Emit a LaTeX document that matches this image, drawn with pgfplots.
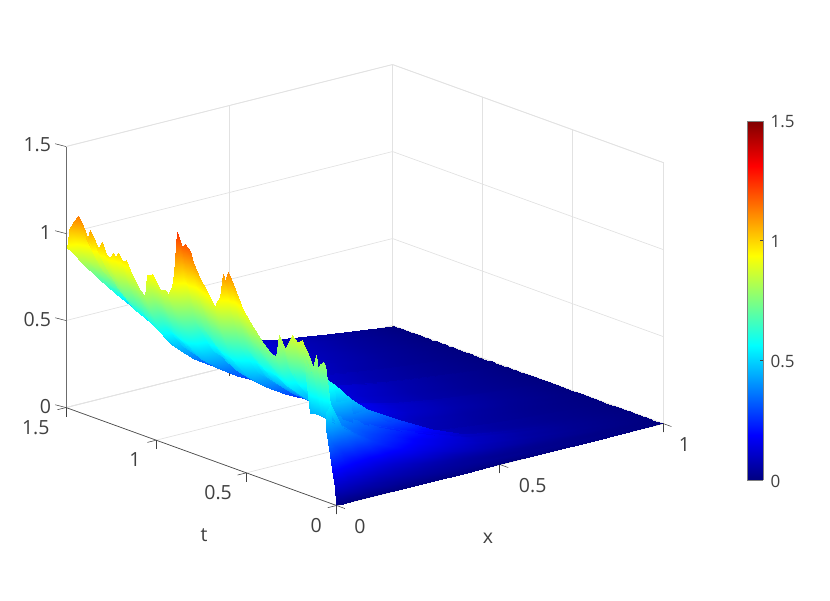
\documentclass[border=0pt]{standalone}
\usepackage{fontspec}
\setmainfont{Open Sans}
\usepackage{pgfplots}
\pgfplotsset{compat=1.18}
\definecolor{txt}{HTML}{404040}
\definecolor{gridc}{HTML}{E2E2E2}
\begin{document}
\begin{tikzpicture}
\path[use as bounding box] (-336.5pt,-95.5pt) rectangle (493.5pt,505.5pt);
\begin{axis}[
  at={(0pt,0pt)}, anchor=origin,
  x={(326.5pt,82pt)}, y={(-180.3pt,65.3pt)}, z={(0pt,174pt)},
  xmin=0, xmax=1, ymin=0, ymax=1.5, zmin=0, zmax=1.5,
  xtick={0,0.5,1}, ytick={0,0.5,1,1.5}, ztick={0,0.5,1,1.5},
  xticklabels={\hspace*{-8pt}0,\hspace*{11pt}0.5,\hspace*{-12pt}1},
  yticklabels={\hspace*{10pt}0,\hspace*{-6pt}0.5,\hspace*{8pt}1,\hspace*{-10pt}1.5},
  xtick pos=lower, ytick pos=lower, ztick pos=left,
  tick align=outside, major tick length=9pt,
  ztick style={draw=none},
  grid=major, grid style={gridc, line width=0.7pt},
  axis line style={gridc, line width=0.7pt},
  tick style={txt, line width=0.5pt},
  tick label style={font=\fontsize{19.5}{22}\selectfont, text=txt, /pgf/number format/assume math mode=true},
  xticklabel style={anchor=center, xshift=19pt, yshift=-18pt},
  yticklabel style={anchor=center, xshift=-16.5pt, yshift=-17.5pt},
  zticklabel style={xshift=-3pt, yshift=-2.5pt},
  label style={font=\fontsize{19.5}{22}\selectfont, text=txt},
  xlabel={x}, ylabel={t},
  xlabel style={at={(axis cs:.1118,-.638,0)}, anchor=center, rotate=0},
  ylabel style={at={(axis cs:-.387,.034,0)}, anchor=center, rotate=0},
  colormap/jet, point meta min=0, point meta max=1.5,
  clip=false,
]
\draw[txt, line width=0.4pt] (axis cs:0,0,0) -- (axis cs:1,0,0);
\addplot3[surf, shader=interp, z buffer=sort, mesh/rows=66, mesh/cols=12] coordinates {
(0,0,0)(.02,0,0)(.05,0,0)(.1,0,0)(.15,0,0)(.2,0,0)(.3,0,0)(.4,0,0)(.5,0,0)(.65,0,0)(.8,0,0)(1,0,0)
(0,.01,.1)(.02,.01,.09)(.05,.01,.07)(.1,.01,.05)(.15,.01,.04)(.2,.01,.035)(.3,.01,.03)(.4,.01,.025)(.5,.01,.02)(.65,.01,.015)(.8,.01,.01)(1,.01,0)
(0,.02,.16)(.02,.02,.13)(.05,.02,.1)(.1,.02,.07)(.15,.02,.055)(.2,.02,.05)(.3,.02,.04)(.4,.02,.035)(.5,.02,.03)(.65,.02,.02)(.8,.02,.012)(1,.02,0)
(0,.03,.24)(.02,.03,.19)(.05,.03,.135)(.1,.03,.1)(.15,.03,.08)(.2,.03,.07)(.3,.03,.05)(.4,.03,.038)(.5,.03,.028)(.65,.03,.018)(.8,.03,.01)(1,.03,0)
(0,.045,.35)(.02,.045,.28)(.05,.045,.2)(.1,.045,.15)(.15,.045,.11)(.2,.045,.09)(.3,.045,.06)(.4,.045,.043)(.5,.045,.03)(.65,.045,.02)(.8,.045,.01)(1,.045,0)
(0,.06,.41)(.02,.06,.33)(.05,.06,.26)(.1,.06,.2)(.15,.06,.15)(.2,.06,.12)(.3,.06,.08)(.4,.06,.055)(.5,.06,.04)(.65,.06,.025)(.8,.06,.013)(1,.06,0)
(0,.066,.78)(.02,.066,.5)(.05,.066,.38)(.1,.066,.28)(.15,.066,.22)(.2,.066,.17)(.3,.066,.115)(.4,.066,.08)(.5,.066,.055)(.65,.066,.032)(.8,.066,.016)(1,.066,0)
(0,.073,.797)(.02,.073,.55)(.05,.073,.42)(.1,.073,.33)(.15,.073,.27)(.2,.073,.22)(.3,.073,.15)(.4,.073,.1)(.5,.073,.07)(.65,.073,.04)(.8,.073,.02)(1,.073,0)
(0,.092,.78)(.02,.092,.5)(.05,.092,.42)(.1,.092,.34)(.15,.092,.28)(.2,.092,.24)(.3,.092,.17)(.4,.092,.12)(.5,.092,.08)(.65,.092,.045)(.8,.092,.022)(1,.092,0)
(0,.104,.74)(.02,.104,.46)(.05,.104,.41)(.1,.104,.34)(.15,.104,.29)(.2,.104,.25)(.3,.104,.18)(.4,.104,.13)(.5,.104,.09)(.65,.104,.05)(.8,.104,.025)(1,.104,0)
(0,.115,.819)(.02,.115,.47)(.05,.115,.42)(.1,.115,.35)(.15,.115,.3)(.2,.115,.26)(.3,.115,.185)(.4,.115,.135)(.5,.115,.09)(.65,.115,.05)(.8,.115,.025)(1,.115,0)
(0,.129,.747)(.02,.129,.46)(.05,.129,.42)(.1,.129,.36)(.15,.129,.31)(.2,.129,.27)(.3,.129,.19)(.4,.129,.14)(.5,.129,.095)(.65,.129,.05)(.8,.129,.025)(1,.129,0)
(0,.16,.81)(.02,.16,.46)(.05,.16,.45)(.1,.16,.41)(.15,.16,.36)(.2,.16,.31)(.3,.16,.23)(.4,.16,.16)(.5,.16,.1)(.65,.16,.055)(.8,.16,.027)(1,.16,0)
(0,.185,.86)(.02,.185,.45)(.05,.185,.44)(.1,.185,.39)(.15,.185,.34)(.2,.185,.3)(.3,.185,.22)(.4,.185,.15)(.5,.185,.095)(.65,.185,.052)(.8,.185,.026)(1,.185,0)
(0,.193,.876)(.02,.193,.72)(.05,.193,.66)(.1,.193,.58)(.15,.193,.47)(.2,.193,.39)(.3,.193,.28)(.4,.193,.18)(.5,.193,.1)(.65,.193,.055)(.8,.193,.027)(1,.193,0)
(0,.221,.856)(.02,.221,.68)(.05,.221,.6)(.1,.221,.46)(.15,.221,.36)(.2,.221,.29)(.3,.221,.2)(.4,.221,.13)(.5,.221,.085)(.65,.221,.048)(.8,.221,.025)(1,.221,0)
(0,.248,.884)(.02,.248,.7)(.05,.248,.6)(.1,.248,.45)(.15,.248,.35)(.2,.248,.28)(.3,.248,.19)(.4,.248,.125)(.5,.248,.08)(.65,.248,.046)(.8,.248,.024)(1,.248,0)
(0,.286,.794)(.02,.286,.65)(.05,.286,.55)(.1,.286,.42)(.15,.286,.33)(.2,.286,.26)(.3,.286,.18)(.4,.286,.12)(.5,.286,.08)(.65,.286,.046)(.8,.286,.024)(1,.286,0)
(0,.319,.858)(.02,.319,.7)(.05,.319,.57)(.1,.319,.43)(.15,.319,.34)(.2,.319,.27)(.3,.319,.185)(.4,.319,.125)(.5,.319,.082)(.65,.319,.048)(.8,.319,.025)(1,.319,0)
(0,.335,.73)(.02,.335,.62)(.05,.335,.52)(.1,.335,.43)(.15,.335,.35)(.2,.335,.27)(.3,.335,.16)(.4,.335,.105)(.5,.335,.072)(.65,.335,.043)(.8,.335,.022)(1,.335,0)
(0,.369,.743)(.02,.369,.63)(.05,.369,.53)(.1,.369,.44)(.15,.369,.36)(.2,.369,.28)(.3,.369,.165)(.4,.369,.11)(.5,.369,.075)(.65,.369,.045)(.8,.369,.023)(1,.369,0)
(0,.406,.779)(.02,.406,.65)(.05,.406,.55)(.1,.406,.45)(.15,.406,.37)(.2,.406,.29)(.3,.406,.175)(.4,.406,.115)(.5,.406,.08)(.65,.406,.047)(.8,.406,.024)(1,.406,0)
(0,.462,.851)(.02,.462,.71)(.05,.462,.58)(.1,.462,.46)(.15,.462,.38)(.2,.462,.31)(.3,.462,.195)(.4,.462,.135)(.5,.462,.09)(.65,.462,.053)(.8,.462,.028)(1,.462,0)
(0,.517,.927)(.02,.517,.771)(.05,.517,.598)(.1,.517,.461)(.15,.517,.38)(.2,.517,.319)(.3,.517,.223)(.4,.517,.156)(.5,.517,.109)(.65,.517,.064)(.8,.517,.033)(1,.517,0)
(0,.572,1.059)(.02,.572,.859)(.05,.572,.644)(.1,.572,.484)(.15,.572,.398)(.2,.572,.333)(.3,.572,.233)(.4,.572,.163)(.5,.572,.114)(.65,.572,.067)(.8,.572,.034)(1,.572,0)
(0,.6,1.115)(.02,.6,.9)(.05,.6,.668)(.1,.6,.498)(.15,.6,.41)(.2,.6,.343)(.3,.6,.24)(.4,.6,.168)(.5,.6,.118)(.65,.6,.069)(.8,.6,.035)(1,.6,0)
(0,.618,1.061)(.02,.618,.865)(.05,.618,.651)(.1,.618,.49)(.15,.618,.404)(.2,.618,.338)(.3,.618,.237)(.4,.618,.166)(.5,.618,.116)(.65,.618,.068)(.8,.618,.035)(1,.618,0)
(0,.628,1.096)(.02,.628,.889)(.05,.628,.664)(.1,.628,.498)(.15,.628,.41)(.2,.628,.343)(.3,.628,.24)(.4,.628,.168)(.5,.628,.118)(.65,.628,.069)(.8,.628,.035)(1,.628,0)
(0,.646,.955)(.02,.646,.778)(.05,.646,.585)(.1,.646,.441)(.15,.646,.363)(.2,.646,.304)(.3,.646,.213)(.4,.646,.149)(.5,.646,.104)(.65,.646,.061)(.8,.646,.031)(1,.646,0)
(0,.661,.93)(.02,.661,.763)(.05,.661,.58)(.1,.661,.44)(.15,.661,.363)(.2,.661,.304)(.3,.661,.213)(.4,.661,.149)(.5,.661,.104)(.65,.661,.061)(.8,.661,.031)(1,.661,0)
(0,.674,.887)(.02,.674,.737)(.05,.674,.571)(.1,.674,.439)(.15,.674,.363)(.2,.674,.304)(.3,.674,.213)(.4,.674,.149)(.5,.674,.104)(.65,.674,.061)(.8,.674,.031)(1,.674,0)
(0,.739,.997)(.02,.739,.809)(.05,.739,.606)(.1,.739,.455)(.15,.739,.374)(.2,.739,.314)(.3,.739,.22)(.4,.739,.154)(.5,.739,.108)(.65,.739,.063)(.8,.739,.032)(1,.739,0)
(0,.757,1.018)(.02,.757,.826)(.05,.757,.617)(.1,.757,.462)(.15,.757,.38)(.2,.757,.319)(.3,.757,.223)(.4,.757,.156)(.5,.757,.109)(.65,.757,.064)(.8,.757,.033)(1,.757,0)
(0,.794,1.1)(.02,.794,.884)(.05,.794,.652)(.1,.794,.484)(.15,.794,.398)(.2,.794,.333)(.3,.794,.233)(.4,.794,.163)(.5,.794,.114)(.65,.794,.067)(.8,.794,.034)(1,.794,0)
(0,.813,1.16)(.02,.813,.927)(.05,.813,.677)(.1,.813,.499)(.15,.813,.41)(.2,.813,.343)(.3,.813,.24)(.4,.813,.168)(.5,.813,.118)(.65,.813,.069)(.8,.813,.035)(1,.813,0)
(0,.84,1.188)(.02,.84,.951)(.05,.84,.696)(.1,.84,.513)(.15,.84,.421)(.2,.84,.353)(.3,.84,.247)(.4,.84,.173)(.5,.84,.121)(.65,.84,.071)(.8,.84,.036)(1,.84,0)
(0,.859,1.162)(.02,.859,.938)(.05,.859,.696)(.1,.859,.52)(.15,.859,.427)(.2,.859,.358)(.3,.859,.25)(.4,.859,.175)(.5,.859,.123)(.65,.859,.072)(.8,.859,.037)(1,.859,0)
(0,.886,1.237)(.02,.886,.99)(.05,.886,.724)(.1,.886,.535)(.15,.886,.439)(.2,.886,.368)(.3,.886,.257)(.4,.886,.18)(.5,.886,.126)(.65,.886,.074)(.8,.886,.038)(1,.886,0)
(0,.9,1)(.02,.9,.811)(.05,.9,.607)(.1,.9,.455)(.15,.9,.374)(.2,.9,.314)(.3,.9,.22)(.4,.9,.154)(.5,.9,.108)(.65,.9,.063)(.8,.9,.032)(1,.9,0)
(0,.914,.912)(.02,.914,.755)(.05,.914,.583)(.1,.914,.447)(.15,.914,.369)(.2,.914,.309)(.3,.914,.216)(.4,.914,.151)(.5,.914,.106)(.65,.914,.062)(.8,.914,.032)(1,.914,0)
(0,.933,.867)(.02,.933,.728)(.05,.933,.574)(.1,.933,.446)(.15,.933,.369)(.2,.933,.309)(.3,.933,.216)(.4,.933,.151)(.5,.933,.106)(.65,.933,.062)(.8,.933,.032)(1,.933,0)
(0,.951,.879)(.02,.951,.738)(.05,.951,.583)(.1,.951,.453)(.15,.951,.374)(.2,.951,.314)(.3,.951,.22)(.4,.951,.154)(.5,.951,.108)(.65,.951,.063)(.8,.951,.032)(1,.951,0)
(0,.979,.878)(.02,.979,.742)(.05,.979,.589)(.1,.979,.46)(.15,.979,.38)(.2,.979,.319)(.3,.979,.223)(.4,.979,.156)(.5,.979,.109)(.65,.979,.064)(.8,.979,.033)(1,.979,0)
(0,1.025,.947)(.02,1.025,.792)(.05,1.025,.621)(.1,1.025,.481)(.15,1.025,.398)(.2,1.025,.333)(.3,1.025,.233)(.4,1.025,.163)(.5,1.025,.114)(.65,1.025,.067)(.8,1.025,.034)(1,1.025,0)
(0,1.053,.927)(.02,1.053,.787)(.05,1.053,.63)(.1,1.053,.495)(.15,1.053,.41)(.2,1.053,.343)(.3,1.053,.24)(.4,1.053,.168)(.5,1.053,.118)(.65,1.053,.069)(.8,1.053,.035)(1,1.053,0)
(0,1.062,.799)(.02,1.062,.69)(.05,1.062,.567)(.1,1.062,.451)(.15,1.062,.374)(.2,1.062,.314)(.3,1.062,.22)(.4,1.062,.154)(.5,1.062,.108)(.65,1.062,.063)(.8,1.062,.032)(1,1.062,0)
(0,1.099,.842)(.02,1.099,.723)(.05,1.099,.588)(.1,1.099,.466)(.15,1.099,.386)(.2,1.099,.323)(.3,1.099,.226)(.4,1.099,.158)(.5,1.099,.111)(.65,1.099,.065)(.8,1.099,.033)(1,1.099,0)
(0,1.145,.921)(.02,1.145,.787)(.05,1.145,.636)(.1,1.145,.501)(.15,1.145,.415)(.2,1.145,.348)(.3,1.145,.244)(.4,1.145,.17)(.5,1.145,.119)(.65,1.145,.07)(.8,1.145,.036)(1,1.145,0)
(0,1.167,.974)(.02,1.167,.828)(.05,1.167,.666)(.1,1.167,.523)(.15,1.167,.433)(.2,1.167,.363)(.3,1.167,.254)(.4,1.167,.178)(.5,1.167,.124)(.65,1.167,.073)(.8,1.167,.037)(1,1.167,0)
(0,1.191,.961)(.02,1.191,.828)(.05,1.191,.675)(.1,1.191,.536)(.15,1.191,.445)(.2,1.191,.372)(.3,1.191,.261)(.4,1.191,.182)(.5,1.191,.128)(.65,1.191,.074)(.8,1.191,.038)(1,1.191,0)
(0,1.21,.996)(.02,1.21,.855)(.05,1.21,.695)(.1,1.21,.55)(.15,1.21,.456)(.2,1.21,.382)(.3,1.21,.268)(.4,1.21,.187)(.5,1.21,.131)(.65,1.21,.076)(.8,1.21,.039)(1,1.21,0)
(0,1.229,.966)(.02,1.229,.841)(.05,1.229,.695)(.1,1.229,.557)(.15,1.229,.462)(.2,1.229,.387)(.3,1.229,.271)(.4,1.229,.19)(.5,1.229,.133)(.65,1.229,.077)(.8,1.229,.04)(1,1.229,0)
(0,1.238,.986)(.02,1.238,.856)(.05,1.238,.706)(.1,1.238,.564)(.15,1.238,.468)(.2,1.238,.392)(.3,1.238,.274)(.4,1.238,.192)(.5,1.238,.134)(.65,1.238,.078)(.8,1.238,.04)(1,1.238,0)
(0,1.256,.956)(.02,1.256,.841)(.05,1.256,.706)(.1,1.256,.57)(.15,1.256,.474)(.2,1.256,.397)(.3,1.256,.278)(.4,1.256,.194)(.5,1.256,.136)(.65,1.256,.079)(.8,1.256,.041)(1,1.256,0)
(0,1.284,.965)(.02,1.284,.853)(.05,1.284,.721)(.1,1.284,.584)(.15,1.284,.486)(.2,1.284,.407)(.3,1.284,.285)(.4,1.284,.199)(.5,1.284,.139)(.65,1.284,.081)(.8,1.284,.042)(1,1.284,0)
(0,1.302,1.025)(.02,1.302,.892)(.05,1.302,.739)(.1,1.302,.592)(.15,1.302,.491)(.2,1.302,.412)(.3,1.302,.288)(.4,1.302,.202)(.5,1.302,.141)(.65,1.302,.082)(.8,1.302,.042)(1,1.302,0)
(0,1.327,.968)(.02,1.327,.882)(.05,1.327,.775)(.1,1.327,.647)(.15,1.327,.547)(.2,1.327,.457)(.3,1.327,.322)(.4,1.327,.204)(.5,1.327,.143)(.65,1.327,.083)(.8,1.327,.043)(1,1.327,0)
(0,1.339,1.02)(.02,1.339,.916)(.05,1.339,.791)(.1,1.339,.655)(.15,1.339,.553)(.2,1.339,.461)(.3,1.339,.325)(.4,1.339,.206)(.5,1.339,.144)(.65,1.339,.084)(.8,1.339,.043)(1,1.339,0)
(0,1.367,1.071)(.02,1.367,.95)(.05,1.367,.807)(.1,1.367,.663)(.15,1.367,.559)(.2,1.367,.466)(.3,1.367,.328)(.4,1.367,.209)(.5,1.367,.146)(.65,1.367,.085)(.8,1.367,.044)(1,1.367,0)
(0,1.382,1.004)(.02,1.382,.912)(.05,1.382,.801)(.1,1.382,.668)(.15,1.382,.565)(.2,1.382,.471)(.3,1.382,.332)(.4,1.382,.211)(.5,1.382,.148)(.65,1.382,.086)(.8,1.382,.044)(1,1.382,0)
(0,1.404,1.082)(.02,1.404,.963)(.05,1.404,.822)(.1,1.404,.677)(.15,1.404,.571)(.2,1.404,.476)(.3,1.404,.335)(.4,1.404,.214)(.5,1.404,.15)(.65,1.404,.087)(.8,1.404,.045)(1,1.404,0)
(0,1.432,1.129)(.02,1.432,.994)(.05,1.432,.838)(.1,1.432,.685)(.15,1.432,.577)(.2,1.432,.481)(.3,1.432,.339)(.4,1.432,.216)(.5,1.432,.151)(.65,1.432,.088)(.8,1.432,.045)(1,1.432,0)
(0,1.456,1.091)(.02,1.456,.975)(.05,1.456,.837)(.1,1.456,.691)(.15,1.456,.582)(.2,1.456,.486)(.3,1.456,.342)(.4,1.456,.218)(.5,1.456,.153)(.65,1.456,.089)(.8,1.456,.046)(1,1.456,0)
(0,1.482,1.034)(.02,1.482,.944)(.05,1.482,.832)(.1,1.482,.696)(.15,1.482,.588)(.2,1.482,.491)(.3,1.482,.346)(.4,1.482,.221)(.5,1.482,.155)(.65,1.482,.09)(.8,1.482,.046)(1,1.482,0)
(0,1.49,.95)(.02,1.49,.894)(.05,1.49,.815)(.1,1.49,.694)(.15,1.49,.588)(.2,1.49,.491)(.3,1.49,.346)(.4,1.49,.221)(.5,1.49,.155)(.65,1.49,.09)(.8,1.49,.046)(1,1.49,0)
(0,1.5,.92)(.02,1.5,.876)(.05,1.5,.809)(.1,1.5,.694)(.15,1.5,.588)(.2,1.5,.491)(.3,1.5,.346)(.4,1.5,.221)(.5,1.5,.155)(.65,1.5,.09)(.8,1.5,.046)(1,1.5,0)
};
\draw[gray!85!black, line width=0.9pt] (axis cs:0,1.5,0) -- (axis cs:0,1.5,1.5);
\draw[txt, line width=0.6pt] (axis cs:0,1.5,0) -- (axis cs:0,0,0);
\draw[txt, line width=0.5pt] (axis cs:0,1.5,0) -- +(-11pt,2.8pt);
\draw[txt, line width=0.5pt] (axis cs:0,1.5,0.5) -- +(-11pt,2.8pt);
\draw[txt, line width=0.5pt] (axis cs:0,1.5,1) -- +(-11pt,2.8pt);
\draw[txt, line width=0.5pt] (axis cs:0,1.5,1.5) -- +(-11pt,2.8pt);
\end{axis}
\begin{axis}[
  at={(410.5pt,25.5pt)}, anchor=south west, width=16pt, height=359pt, scale only axis,
  view={0}{90},
  xmin=0, xmax=1, ymin=0, ymax=1.5,
  xtick=\empty, ytick={0,0.5,1,1.5}, yticklabel pos=right, ytick pos=right,
  tick align=inside, major tick length=3pt,
  axis line style={gray, line width=0.7pt},
  tick style={txt, line width=0.5pt},
  tick label style={font=\fontsize{17}{20}\selectfont, text=txt, /pgf/number format/assume math mode=true},
  yticklabel style={xshift=4pt, yshift=-1pt},
  colormap/jet, point meta min=0, point meta max=1.5,
]
\addplot3[surf, shader=interp, point meta=y, mesh/rows=2, mesh/cols=2] table {
0 0 0
1 0 0
0 1.5 0
1 1.5 0
};
\end{axis}
\end{tikzpicture}
\end{document}
